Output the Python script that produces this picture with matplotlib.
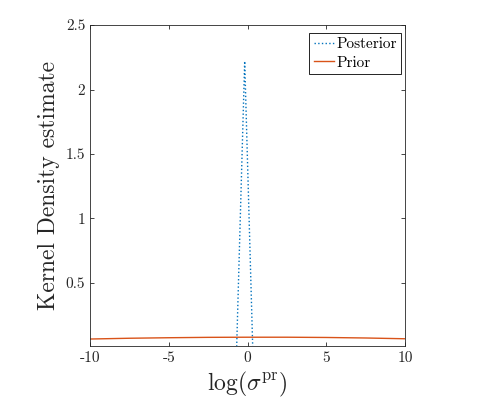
import matplotlib
matplotlib.use("Agg")
import matplotlib.pyplot as plt

# Data
post_x = [-10.0, -0.69, -0.18, 0.33, 10.0]
post_y = [0.0, 0.0, 2.22, 0.0, 0.0]
prior_x = [-10, -7.5, -5, -2.5, 0, 2.5, 5, 7.5, 10]
prior_y = [0.064, 0.070, 0.074, 0.077, 0.078, 0.078, 0.076, 0.072, 0.066]
xticks = [-10, -5, 0, 5, 10]
yticks = [0.5, 1, 1.5, 2, 2.5]

plt.rcParams['mathtext.fontset'] = 'cm'
plt.rcParams['font.family'] = ['cmr10', 'DejaVu Serif']
plt.rcParams['axes.unicode_minus'] = False

fig = plt.figure(figsize=(4.79, 3.98), dpi=100)
ax = fig.add_axes([0.188, 0.1307, 0.6575, 0.8063])

ax.plot(post_x, post_y, linestyle=':', color=(0, 0.447, 0.741), lw=1.0, label='Posterior')
ax.plot(prior_x, prior_y, linestyle='-', color=(0.85, 0.325, 0.098), lw=1.0, label='Prior')

ax.set_xlim(-10, 10)
ax.set_ylim(0.01, 2.5)
ax.set_xticks(xticks)
ax.set_xticklabels([str(v) for v in xticks])
ax.set_yticks(yticks)
ax.set_yticklabels([('%g' % v) for v in yticks])
ax.tick_params(direction='in', top=True, right=True, labelsize=11, length=3,
               width=0.6, colors=(0.15, 0.15, 0.15), labelcolor=(0.15, 0.15, 0.15))
for s in ax.spines.values():
    s.set_color((0.15, 0.15, 0.15))
    s.set_linewidth(0.6)

ax.set_xlabel(r'$\log(\sigma^{\rm pr})$', fontsize=17, color=(0.15, 0.15, 0.15))
ax.set_ylabel('Kernel Density estimate', fontsize=17, color=(0.15, 0.15, 0.15))

leg = ax.legend(loc='upper right', fontsize=11, handlelength=1.3, handletextpad=0.15,
                borderpad=0.3, labelspacing=0.3, fancybox=False, framealpha=1,
                bbox_to_anchor=(0.988, 0.975), borderaxespad=0.0)
leg.get_frame().set_edgecolor('black')
leg.get_frame().set_linewidth(0.6)

fig.savefig('out.png', dpi=100)
